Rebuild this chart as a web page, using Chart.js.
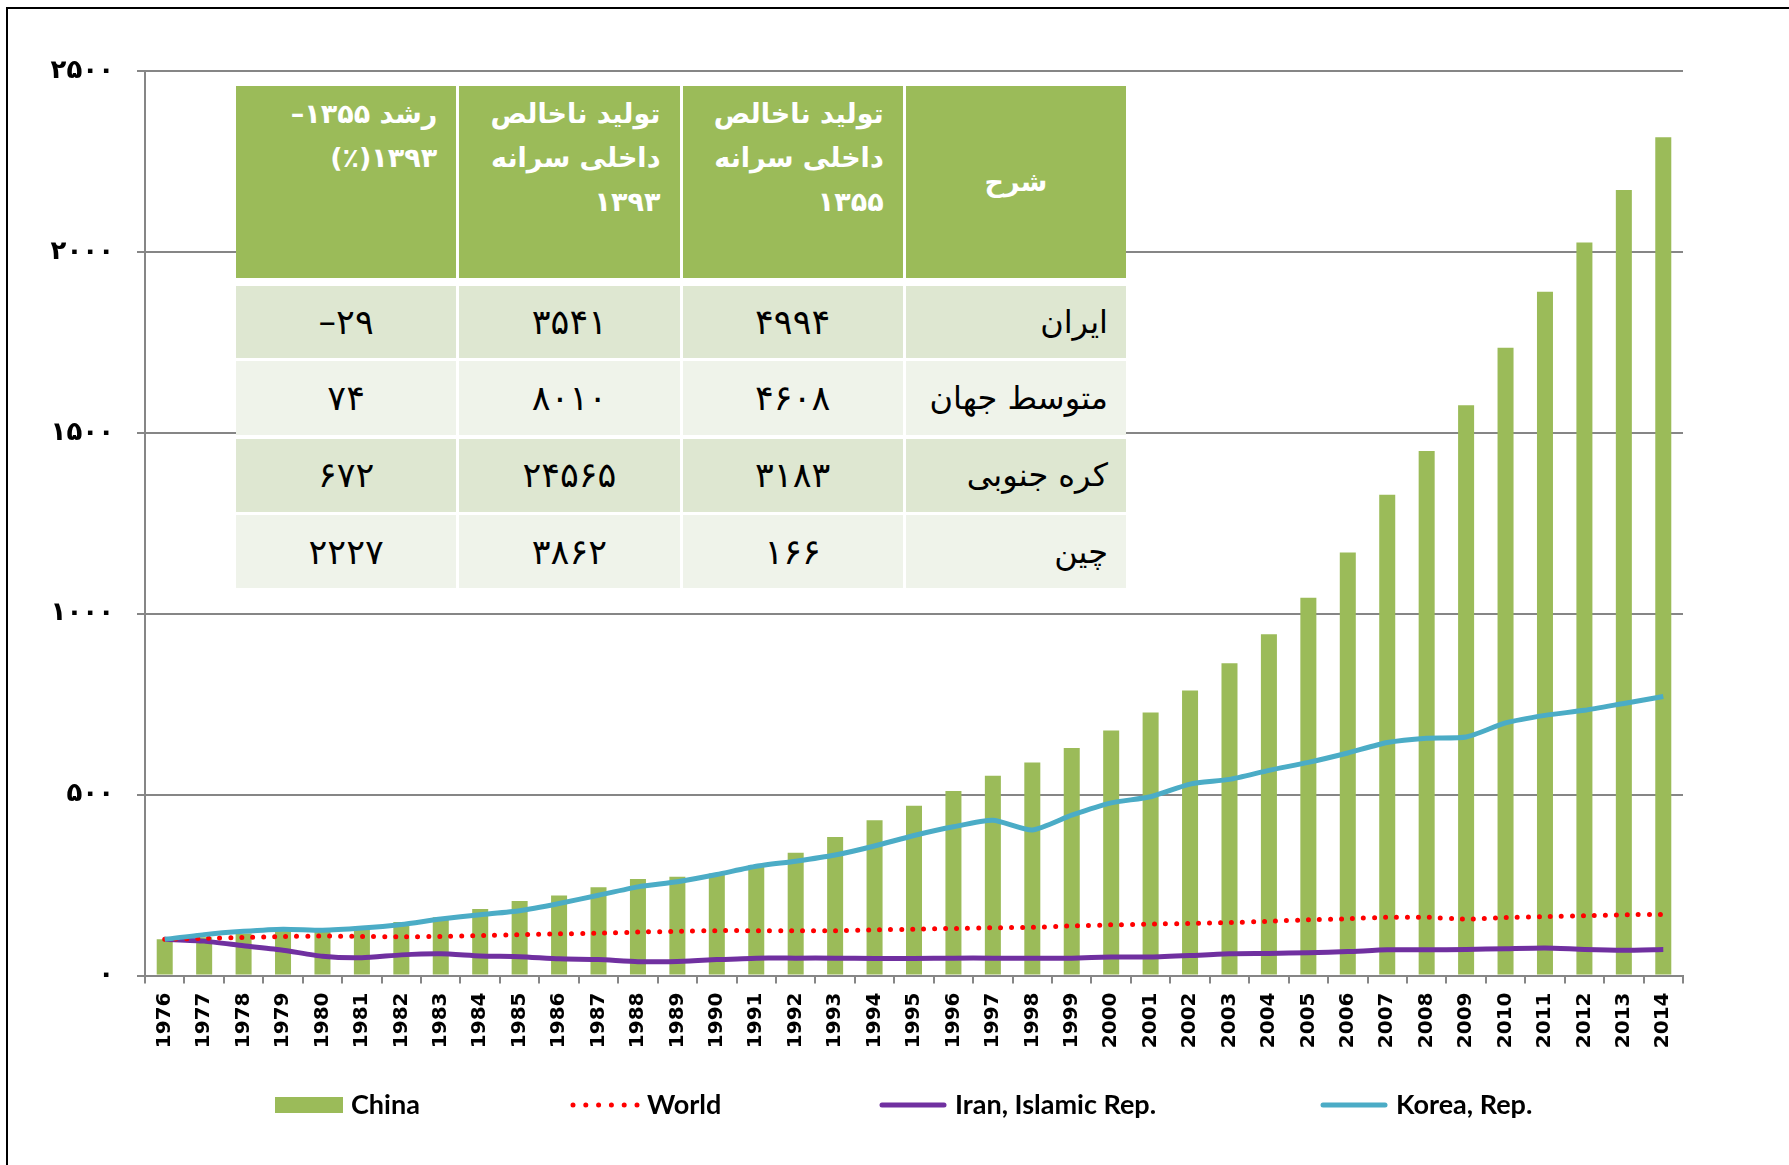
<!DOCTYPE html>
<html>
<head>
<meta charset="utf-8">
<script src="https://cdn.jsdelivr.net/npm/chart.js@4.4.1/dist/chart.umd.min.js"></script>
<style>
  body { margin: 0; background: #fff; }
  #wrap { position: relative; width: 1789px; height: 1165px; overflow: hidden; }
  #frame { position: absolute; left: 6px; top: 7px; width: 1900px; height: 1300px;
           border-left: 2px solid #000; border-top: 2px solid #000; }
  canvas { position: absolute; left: 0; top: 0; }
  #tbl { position: absolute; left: 236px; top: 86px; width: 890px; display: grid; direction: rtl;
         grid-template-columns: repeat(4, 1fr); column-gap: 3px; row-gap: 3.5px;
         grid-template-rows: 191.5px 1px 72px 74px 73px 73px; background: #fff;
         font-family: "DejaVu Sans", sans-serif; }
  .h { background: #9BBB59; color: #fff; font-weight: bold; font-size: 27px; line-height: 44px;
       text-align: right; padding: 6px 19px 0 0; }
  .h.mid { display: flex; align-items: center; justify-content: center; padding: 0; }
  .sp { grid-column: 1 / -1; }
  .b { font-size: 35px; color: #000; display: flex; align-items: center; justify-content: center; }
  .b.name { font-size: 32px; justify-content: flex-start; padding-right: 18px; }
  .r1 { background: #DEE7D1; }
  .r2 { background: #EFF3EA; }
</style>
</head>
<body>
<div id="wrap">
  <div id="frame"></div>
  <canvas id="gdpChart" width="1789" height="1165"></canvas>
  <div id="tbl"></div>
</div>
<script>
// GDP per capita index, 1976 = 100
const years = ['1976','1977','1978','1979','1980','1981','1982','1983','1984','1985','1986','1987','1988',
  '1989','1990','1991','1992','1993','1994','1995','1996','1997','1998','1999','2000','2001','2002',
  '2003','2004','2005','2006','2007','2008','2009','2010','2011','2012','2013','2014'];

const china = [100, 106, 116, 123, 128, 134, 148, 161, 184, 206, 221, 244, 267, 273, 282, 305, 339, 383,
  429, 469, 510, 552, 589, 629, 677, 727, 788, 863, 943, 1044, 1169, 1329, 1450, 1576, 1735, 1890, 2026, 2171, 2317];
const world = [100, 103, 105, 108, 109, 108, 107, 108, 110, 113, 115, 117, 120, 122, 124, 124, 124, 124,
  126, 128, 130, 132, 133, 137, 140, 142, 144, 146, 150, 154, 157, 161, 161, 156, 160, 163, 165, 168, 169];
const iran = [100, 95, 82, 70, 53, 49, 57, 60, 54, 52, 46, 44, 38, 39, 44, 48, 48, 48,
  47, 47, 48, 48, 48, 48, 51, 51, 55, 60, 61, 63, 66, 71, 71, 72, 74, 76, 72, 70, 72];
const korea = [100, 113, 122, 128, 125, 131, 141, 156, 168, 179, 199, 222, 245, 259, 279, 302, 316, 333,
  358, 387, 411, 429, 402, 443, 477, 494, 529, 542, 567, 589, 615, 644, 656, 659, 698, 719, 733, 752, 771];

const yTicks = [0, 500, 1000, 1500, 2000, 2500];

// table overlay
const headerLines = [
  ['شرح'],
  ['تولید ناخالص', 'داخلی سرانه', '۱۳۵۵'],
  ['تولید ناخالص', 'داخلی سرانه', '۱۳۹۳'],
  ['رشد ۱۳۵۵–', '۱۳۹۳(٪)']
];
const rowNames = ['ایران', 'متوسط جهان', 'کره جنوبی', 'چین'];
const gdp1355 = [4994, 4608, 3183, 166];
const gdp1393 = [3541, 8010, 24565, 3862];
const growth = [-29, 74, 672, 2227];

const faDigits = '۰۱۲۳۴۵۶۷۸۹';
function toFa(n) {
  return String(n).replace(/\d/g, d => faDigits[d]);
}

function buildTable() {
  const tbl = document.getElementById('tbl');
  let html = '';
  headerLines.forEach((lines, i) => {
    html += '<div class="h' + (i === 0 ? ' mid' : '') + '">' + lines.join('<br>') + '</div>';
  });
  html += '<div class="sp"></div>';
  rowNames.forEach((name, i) => {
    const cls = i % 2 === 0 ? 'r1' : 'r2';
    const g = growth[i] < 0 ? '<bdi dir="ltr">–' + toFa(-growth[i]) + '</bdi>' : toFa(growth[i]);
    html += '<div class="b name ' + cls + '">' + name + '</div>';
    html += '<div class="b ' + cls + '">' + toFa(gdp1355[i]) + '</div>';
    html += '<div class="b ' + cls + '">' + toFa(gdp1393[i]) + '</div>';
    html += '<div class="b ' + cls + '">' + g + '</div>';
  });
  tbl.innerHTML = html;
}

const legendSpots = [275, 571, 879, 1320];
const bottomLegend = {
  id: 'bottomLegend',
  afterDraw(chart) {
    const ctx = chart.ctx;
    const y = 1105;
    ctx.save();
    ctx.font = 'bold 27px Lato';
    ctx.textBaseline = 'middle';
    chart.data.datasets.forEach((ds, i) => {
      const x = legendSpots[i];
      ctx.save();
      if (ds.type === 'bar') {
        ctx.fillStyle = ds.backgroundColor;
        ctx.fillRect(x, y - 8, 68, 16);
      } else {
        ctx.strokeStyle = ds.borderColor;
        ctx.lineWidth = ds.borderWidth;
        ctx.lineCap = 'round';
        ctx.beginPath();
        if (ds.borderDash) {
          ctx.setLineDash([0, 12.8]);
          ctx.moveTo(x + 2, y);
          ctx.lineTo(x + 66.1, y);
        } else {
          ctx.moveTo(x + 3, y);
          ctx.lineTo(x + 65, y);
        }
        ctx.stroke();
      }
      ctx.restore();
      ctx.fillStyle = '#000';
      ctx.fillText(ds.label, x + 76, y);
    });
    ctx.restore();
  }
};

function renderChart() {
  const canvas = document.getElementById('gdpChart');
  const grey = '#868686';

  new Chart(canvas, {
    type: 'bar',
    data: {
      labels: years,
      datasets: [
        {
          type: 'bar', label: 'China', data: china,
          backgroundColor: '#9BBB59', barPercentage: 0.406, categoryPercentage: 1, order: 4
        },
        {
          type: 'line', label: 'World', data: world,
          borderColor: '#FF0000', borderWidth: 5, borderDash: [0, 11], borderCapStyle: 'round',
          pointRadius: 0, tension: 0.2, order: 2
        },
        {
          type: 'line', label: 'Iran, Islamic Rep.', data: iran,
          borderColor: '#7030A0', borderWidth: 5, borderJoinStyle: 'round',
          pointRadius: 0, tension: 0.2, order: 3
        },
        {
          type: 'line', label: 'Korea, Rep.', data: korea,
          borderColor: '#4BACC6', borderWidth: 5, borderJoinStyle: 'round',
          pointRadius: 0, tension: 0.2, order: 1
        }
      ]
    },
    options: {
      responsive: false,
      animation: false,
      layout: { padding: { left: 0, top: 71, right: 106, bottom: 0 } },
      plugins: {
        legend: { display: false },
        tooltip: { enabled: false }
      },
      scales: {
        x: {
          grid: { drawOnChartArea: false, drawTicks: true, tickLength: 8, color: grey, lineWidth: 2 },
          border: { color: grey, width: 2 },
          ticks: {
            autoSkip: false, minRotation: 90, maxRotation: 90, padding: 9,
            color: '#000', font: { family: 'DejaVu Sans', weight: 'bold', size: 20 }
          },
          afterFit(scale) { scale.height = 189.5; }
        },
        y: {
          min: 0, max: 2500,
          grid: { color: grey, lineWidth: 2, tickLength: 8 },
          border: { color: grey, width: 2 },
          ticks: {
            stepSize: 500, padding: 23, color: '#000',
            font: { family: 'DejaVu Sans', weight: 'bold', size: 26 },
            callback: v => yTicks.includes(v) ? toFa(v) : ''
          },
          afterFit(scale) { scale.width = 145; }
        }
      }
    },
    plugins: [bottomLegend]
  });
}

document.addEventListener('DOMContentLoaded', () => {
  buildTable();
  renderChart();
});
</script>
</body>
</html>
